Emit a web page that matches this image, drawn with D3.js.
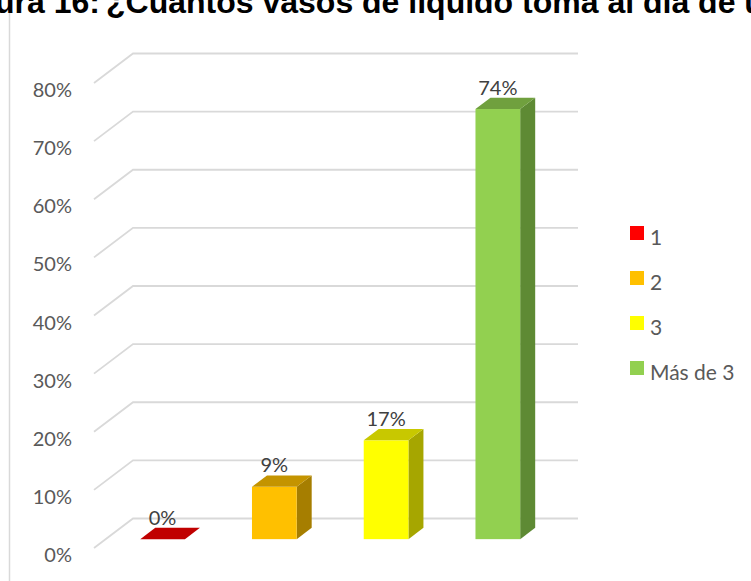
<!DOCTYPE html>
<html>
<head>
<meta charset="utf-8">
<script src="https://cdn.jsdelivr.net/npm/d3@7"></script>
<style>
  body { margin: 0; background: #fff; overflow: hidden; }
  svg { display: block; }
</style>
</head>
<body>
<svg id="chart" width="751" height="581"></svg>
<script>
// Datos del gráfico
const categorias = ["1", "2", "3", "Más de 3"];
const valores = [0.00, 0.09, 0.17, 0.74];
const etiquetas = ["0%", "9%", "17%", "74%"];
const ticks = [0, 0.1, 0.2, 0.3, 0.4, 0.5, 0.6, 0.7, 0.8];
const coloresFrente = ["#FF0000", "#FFC000", "#FFFF00", "#92D050"];
const coloresArriba = ["#C00000", "#C49400", "#C8C800", "#70A03E"];
const coloresLado = ["#A00000", "#A67E00", "#A6A600", "#5E8A34"];
const tituloPrefijo = "Figura 16: ";
const titulo = "¿Cuántos vasos de líquido toma al día de u";

const svg = d3.select("#chart");
const width = 751, height = 581;

// Profundidad del "piso" 3D
const DX = 39, DY = -29.5;
const f0 = 0.3, f1 = 0.685;   // fracción de profundidad de las barras (frente / fondo)

// Escalas
const y = d3.scaleLinear().domain([0, 0.8]).range([548, 83]);
const x = d3.scaleBand()
    .domain(categorias)
    .range([95, 542])
    .paddingInner(0.6)
    .paddingOuter(0.3);
const plotLeft = 94, plotRight = 539;

// Borde izquierdo del área del gráfico
svg.append("line")
    .attr("x1", 9.5).attr("x2", 9.5)
    .attr("y1", 13).attr("y2", height)
    .attr("stroke", "#d9d9d9")
    .attr("stroke-width", 1.5);

// Título (recortado arriba, como en la imagen): dos partes para fijar dónde empieza "¿"
const tituloFuente = {family: "'Liberation Sans', Arial, sans-serif", size: 32};
svg.append("text")
    .attr("x", 100)
    .attr("y", 13)
    .attr("text-anchor", "end")
    .attr("font-family", tituloFuente.family)
    .attr("font-weight", "bold")
    .attr("font-size", tituloFuente.size)
    .attr("fill", "#000")
    .text(tituloPrefijo);
svg.append("text")
    .attr("x", 106)
    .attr("y", 13)
    .attr("font-family", tituloFuente.family)
    .attr("font-weight", "bold")
    .attr("font-size", tituloFuente.size)
    .attr("fill", "#000")
    .text(titulo);

// Líneas de cuadrícula (diagonal + pared del fondo)
const grid = svg.append("g");
ticks.forEach(t => {
    const yf = y(t);
    grid.append("path")
        .attr("d", `M${plotLeft},${yf}L${plotLeft + DX},${yf + DY}L${plotRight + DX},${yf + DY}`)
        .attr("fill", "none")
        .attr("stroke", "#d9d9d9")
        .attr("stroke-width", 1.8);
});

// Etiquetas del eje Y
svg.append("g")
    .selectAll("text")
    .data(ticks)
    .join("text")
    .attr("x", 72)
    .attr("y", d => y(d) + 7)
    .attr("dy", "0.35em")
    .attr("text-anchor", "end")
    .attr("font-family", "Lato, 'Noto Sans', sans-serif")
    .attr("font-size", 20)
    .attr("fill", "#595959")
    .text(d => d3.format(".0%")(d));

// Barras 3D
const bdx = DX * (f1 - f0), bdy = DY * (f1 - f0);
const barras = svg.append("g");
categorias.forEach((c, i) => {
    const x0 = x(c) + DX * f0;
    const x1 = x0 + x.bandwidth();
    const yb = y(0) + DY * f0;
    const yt = y(valores[i]) + DY * f0;

    // cara lateral
    barras.append("path")
        .attr("d", `M${x1},${yt}L${x1 + bdx},${yt + bdy}L${x1 + bdx},${yb + bdy}L${x1},${yb}Z`)
        .attr("fill", coloresLado[i]);
    // cara frontal
    barras.append("rect")
        .attr("x", x0)
        .attr("y", yt)
        .attr("width", x.bandwidth())
        .attr("height", yb - yt)
        .attr("fill", coloresFrente[i]);
    // cara superior
    barras.append("path")
        .attr("d", `M${x0},${yt}L${x1},${yt}L${x1 + bdx},${yt + bdy}L${x0 + bdx},${yt + bdy}Z`)
        .attr("fill", coloresArriba[i]);

    // etiqueta de datos
    barras.append("text")
        .attr("x", (x0 + x1) / 2)
        .attr("y", yt + bdy - 3)
        .attr("text-anchor", "middle")
        .attr("font-family", "Lato, 'Noto Sans', sans-serif")
        .attr("font-size", 20)
        .attr("fill", "#404040")
        .text(etiquetas[i]);
});

// Leyenda
const leyenda = svg.append("g").attr("transform", "translate(630,226)");
categorias.forEach((c, i) => {
    const g = leyenda.append("g").attr("transform", `translate(0,${i * 45})`);
    g.append("rect")
        .attr("width", 14)
        .attr("height", 14)
        .attr("fill", coloresFrente[i]);
    g.append("text")
        .attr("x", 20)
        .attr("y", 19)
        .attr("font-family", "Lato, 'Noto Sans', sans-serif")
        .attr("font-size", 21)
        .attr("fill", "#595959")
        .text(c);
});
</script>
</body>
</html>
